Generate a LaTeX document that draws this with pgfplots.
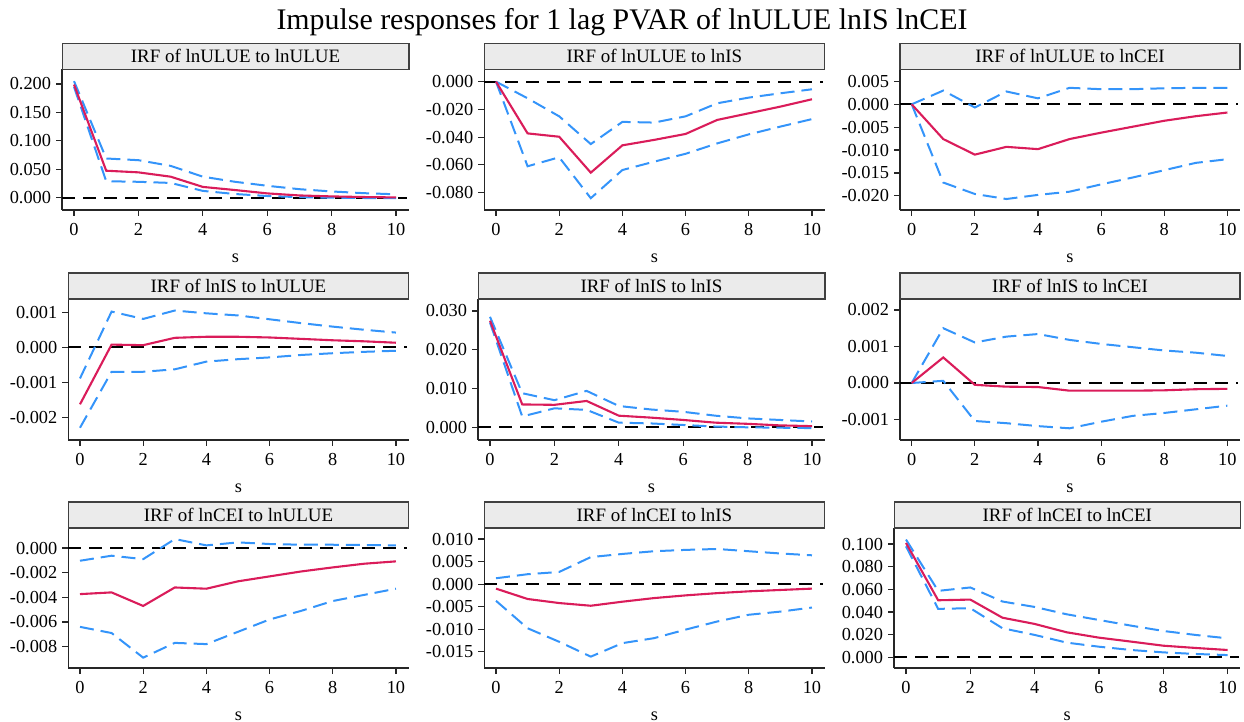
\documentclass[border=0pt]{standalone}
\usepackage{fontspec}
\setmainfont{Liberation Serif}
\usepackage{pgfplots}
\usepackage{pgfplotstable}
\pgfplotsset{compat=1.18}
\definecolor{irfred}{RGB}{218,28,90}
\definecolor{ciblue}{RGB}{52,148,250}
\definecolor{hdrgray}{RGB}{235,235,235}

\pgfplotstableread{
s irf lo hi
0 0.199 0.195 0.205
1 0.0475 0.029 0.069
2 0.0446 0.028 0.066
3 0.037 0.026 0.056
4 0.019 0.012 0.037
5 0.0135 0.0065 0.028
6 0.0076 0.003 0.021
7 0.004 0.001 0.015
8 0.0023 0.0 0.011
9 0.0012 -0.0005 0.008
10 0.0005 -0.0006 0.006
}\tA
\pgfplotstableread{
s irf lo hi
0 0 0 0
1 -0.0373 -0.061 -0.012
2 -0.0397 -0.0545 -0.025
3 -0.0656 -0.084 -0.045
4 -0.0459 -0.0637 -0.029
5 -0.042 -0.0577 -0.0295
6 -0.0377 -0.052 -0.025
7 -0.0276 -0.0445 -0.0156
8 -0.0228 -0.038 -0.0115
9 -0.018 -0.0324 -0.0084
10 -0.0127 -0.027 -0.0055
}\tB
\pgfplotstableread{
s irf lo hi
0 0 0 0
1 -0.0076 -0.0171 0.003
2 -0.011 -0.0196 -0.0007
3 -0.0093 -0.0207 0.0028
4 -0.0098 -0.0198 0.0013
5 -0.0076 -0.0191 0.0036
6 -0.0062 -0.0175 0.0033
7 -0.0049 -0.016 0.0033
8 -0.0036 -0.0144 0.0035
9 -0.0026 -0.0128 0.0036
10 -0.0018 -0.012 0.0036
}\tC
\pgfplotstableread{
s irf lo hi
0 -0.00163 -0.0023 -0.00089
1 0.000076 -0.0007 0.00102
2 0.00006 -0.0007 0.00081
3 0.00027 -0.00063 0.00105
4 0.0003 -0.00041 0.00097
5 0.0003 -0.00034 0.00091
6 0.00028 -0.00029 0.0008
7 0.00024 -0.00022 0.00069
8 0.0002 -0.00017 0.00059
9 0.00017 -0.00013 0.0005
10 0.00013 -0.0001 0.00042
}\tD
\pgfplotstableread{
s irf lo hi
0 0.0275 0.027 0.0285
1 0.0059 0.0028 0.0088
2 0.0058 0.0049 0.007
3 0.0068 0.0045 0.0094
4 0.003 0.0012 0.0055
5 0.0025 0.001 0.0046
6 0.0019 0.0006 0.004
7 0.0012 0.0002 0.003
8 0.0009 0.0 0.0023
9 0.0005 -0.0001 0.0019
10 0.0003 -0.0002 0.0015
}\tE
\pgfplotstableread{
s irf lo hi
0 0 0 0
1 0.0007 0.00006 0.0015
2 -0.00005 -0.00104 0.00111
3 -0.0001 -0.0011 0.00127
4 -0.00011 -0.00118 0.00134
5 -0.00021 -0.00124 0.00118
6 -0.00021 -0.00106 0.00107
7 -0.00021 -0.0009 0.00098
8 -0.0002 -0.00082 0.00089
9 -0.00017 -0.00072 0.00083
10 -0.00016 -0.00062 0.00074
}\tF
\pgfplotstableread{
s irf lo hi
0 -0.00374 -0.0064 -0.00103
1 -0.0036 -0.0069 -0.00062
2 -0.0047 -0.0089 -0.0009
3 -0.0032 -0.0077 0.00073
4 -0.0033 -0.0078 0.00022
5 -0.0027 -0.0068 0.00046
6 -0.0023 -0.0058 0.00033
7 -0.0019 -0.0051 0.00027
8 -0.00157 -0.0043 0.00027
9 -0.00127 -0.0038 0.00025
10 -0.00108 -0.0033 0.00022
}\tG
\pgfplotstableread{
s irf lo hi
0 -0.001 -0.0037 0.0013
1 -0.0033 -0.0098 0.0022
2 -0.0042 -0.0128 0.0027
3 -0.0048 -0.0161 0.006
4 -0.0039 -0.0131 0.0067
5 -0.0031 -0.012 0.0073
6 -0.0025 -0.0101 0.0076
7 -0.002 -0.0083 0.0078
8 -0.0016 -0.0068 0.0073
9 -0.0013 -0.0061 0.0068
10 -0.001 -0.0052 0.0064
}\tH
\pgfplotstableread{
s irf lo hi
0 0.101 0.098 0.104
1 0.0504 0.0428 0.0587
2 0.051 0.0434 0.0617
3 0.035 0.0257 0.0493
4 0.0295 0.0198 0.0445
5 0.0221 0.013 0.038
6 0.0174 0.0094 0.033
7 0.0139 0.0065 0.028
8 0.0103 0.0044 0.0233
9 0.0083 0.003 0.0198
10 0.0065 0.002 0.0168
}\tI

\pgfplotsset{irf/.style={
  scale only axis, anchor=south west,
  axis lines=left, axis line style={-, line width=0.75bp, black!85},
  xmin=-0.37, xmax=10.4, xtick={0,2,4,6,8,10},
  tick align=outside, major tick length=3bp,
  tick style={line width=0.6bp, black!85},
  ticklabel style={font=\fontsize{9.2}{10}\selectfont},
  yticklabel style={xshift=1bp},
  /pgf/number format/assume math mode=true,
  xlabel={s},
  xlabel style={font=\fontsize{9.2}{10}\selectfont, at={(axis description cs:0.5,0)}, anchor=center, yshift=-24bp},
  clip=false, enlargelimits=false,
}}
\newcommand\hdr[1]{%
  \draw[fill=hdrgray, draw=black!75, line width=0.6bp] (rel axis cs:0,1) rectangle ([yshift=13bp]rel axis cs:1,1);
  \node[font=\fontsize{9.5}{11}\selectfont, inner sep=0pt] at ([yshift=6.5bp]rel axis cs:0.5,1) {#1};}
\newcommand\irfplots[1]{%
  \addplot[black, line width=1bp, dash pattern=on 6.5bp off 4bp] coordinates {(-0.37,0) (10.35,0)};
  \addplot[ciblue, line width=1bp, dash pattern=on 7bp off 3.5bp] table[x=s,y=lo]{#1};
  \addplot[ciblue, line width=1bp, dash pattern=on 7bp off 3.5bp] table[x=s,y=hi]{#1};
  \addplot[irfred, line width=1.05bp] table[x=s,y=irf]{#1};}

\begin{document}
\begin{tikzpicture}
\path[use as bounding box] (0,0) rectangle (622bp,361bp);
\node[font=\fontsize{15}{17}\selectfont] at (311bp,350bp) {Impulse responses for 1 lag PVAR of lnULUE lnIS lnCEI};

% Row 1
\begin{axis}[irf, at={(31.05bp,256bp)}, width=173.4bp, height=70.35bp,
  ymin=-0.0216, ymax=0.2259, ytick={0,0.05,0.1,0.15,0.2},
  yticklabels={0.000,0.050,0.100,0.150,0.200}]
\irfplots{\tA}
\hdr{IRF of lnULUE to lnULUE}
\end{axis}
\begin{axis}[irf, at={(242.15bp,256bp)}, width=170.15bp, height=70.35bp,
  ymin=-0.0925, ymax=0.0089, ytick={-0.08,-0.06,-0.04,-0.02,0},
  yticklabels={-0.080,-0.060,-0.040,-0.020,0.000}]
\irfplots{\tB}
\hdr{IRF of lnULUE to lnIS}
\end{axis}
\begin{axis}[irf, at={(450bp,256bp)}, width=170bp, height=70.35bp,
  ymin=-0.0231, ymax=0.00765, ytick={-0.02,-0.015,-0.01,-0.005,0,0.005},
  yticklabels={-0.020,-0.015,-0.010,-0.005,0.000,0.005}]
\irfplots{\tC}
\hdr{IRF of lnULUE to lnCEI}
\end{axis}

% Row 2
\begin{axis}[irf, at={(34.15bp,141bp)}, width=170.15bp, height=70.5bp,
  ymin=-0.00265, ymax=0.00138, ytick={-0.002,-0.001,0,0.001},
  yticklabels={-0.002,-0.001,0.000,0.001}]
\irfplots{\tD}
\hdr{IRF of lnIS to lnULUE}
\end{axis}
\begin{axis}[irf, at={(239.05bp,141bp)}, width=173.4bp, height=70.5bp,
  ymin=-0.00327, ymax=0.0331, ytick={0,0.01,0.02,0.03},
  yticklabels={0.000,0.010,0.020,0.030}]
\irfplots{\tE}
\hdr{IRF of lnIS to lnIS}
\end{axis}
\begin{axis}[irf, at={(450bp,141bp)}, width=170bp, height=70.5bp,
  ymin=-0.00156, ymax=0.0023, ytick={-0.001,0,0.001,0.002},
  yticklabels={-0.001,0.000,0.001,0.002}]
\irfplots{\tF}
\hdr{IRF of lnIS to lnCEI}
\end{axis}

% Row 3
\begin{axis}[irf, at={(34.15bp,27bp)}, width=170.15bp, height=70bp,
  ymin=-0.00974, ymax=0.00163, ytick={-0.008,-0.006,-0.004,-0.002,0},
  yticklabels={-0.008,-0.006,-0.004,-0.002,0.000}]
\irfplots{\tG}
\hdr{IRF of lnCEI to lnULUE}
\end{axis}
\begin{axis}[irf, at={(242.15bp,27bp)}, width=170.15bp, height=70bp,
  ymin=-0.01862, ymax=0.01246, ytick={-0.015,-0.01,-0.005,0,0.005,0.01},
  yticklabels={-0.015,-0.010,-0.005,0.000,0.005,0.010}]
\irfplots{\tH}
\hdr{IRF of lnCEI to lnIS}
\end{axis}
\begin{axis}[irf, at={(447.05bp,27bp)}, width=173.15bp, height=70bp,
  ymin=-0.0094, ymax=0.1142, ytick={0,0.02,0.04,0.06,0.08,0.1},
  yticklabels={0.000,0.020,0.040,0.060,0.080,0.100}]
\irfplots{\tI}
\hdr{IRF of lnCEI to lnCEI}
\end{axis}
\end{tikzpicture}
\end{document}
